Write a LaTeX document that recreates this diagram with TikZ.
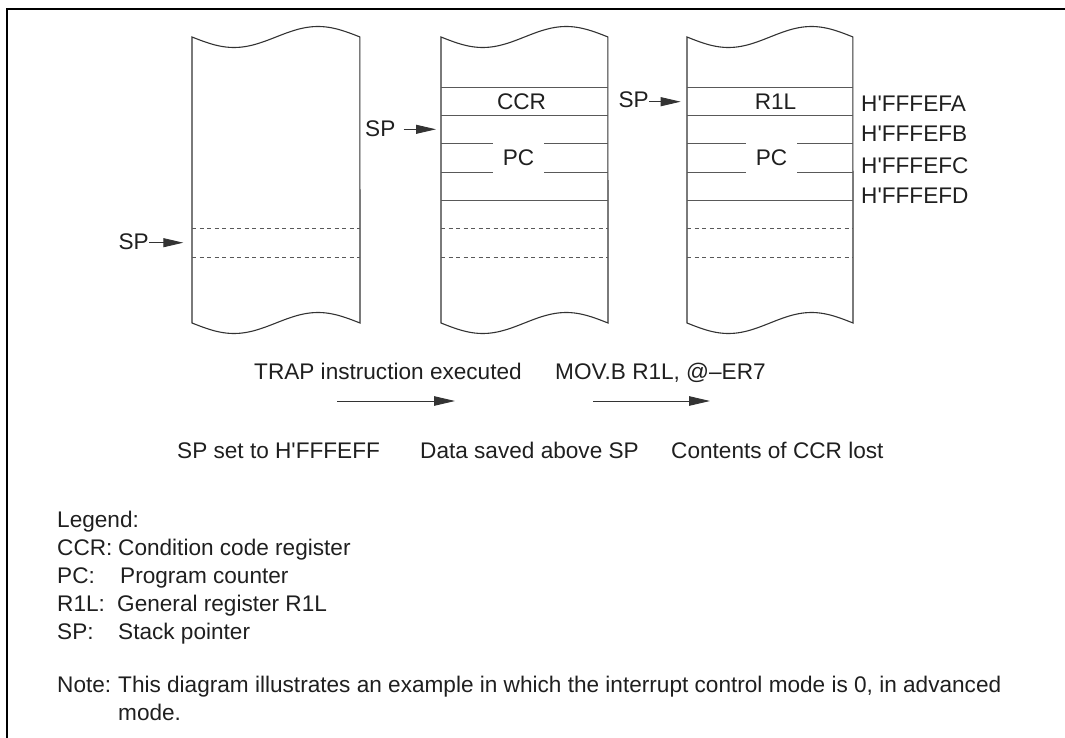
\documentclass[tikz,border=0pt]{standalone}
\usepackage{fontspec}
\setmainfont{Liberation Sans}[Ligatures=TeXOff]
\usetikzlibrary{arrows.meta}
\begin{document}
\begin{tikzpicture}[x=1pt,y=-1pt,
  txt/.style={font=\fontsize{22.6}{27}\selectfont, text=black!88, inner sep=0pt},
  outline/.style={line width=1.1pt, draw=black!80},
  rowline/.style={line width=0.9pt, draw=black!65},
  dashrow/.style={line width=0.9pt, draw=black!65, dash pattern=on 4pt off 3.5pt},
  sparrow/.style={line width=0.9pt, draw=black!80, -{Triangle[length=20pt,width=9pt]}},
  steparrow/.style={line width=0.9pt, draw=black!80, -{Triangle[length=21pt,width=9.5pt]}},
]
\useasboundingbox (0,0) rectangle (1065,738);
\draw[line width=1.8pt] (7,738) -- (7,9) -- (1065,9);

% stack columns
\foreach \L/\R in {192/360,441/608,687/853}{
  \draw[outline] (\L,323) -- (\L,37)
    -- plot[domain=0:1,samples=60,smooth] ({\L+\x*(\R-\L)},{37+10.5*sin(360*\x)})
    -- (\R,323)
    -- plot[domain=1:0,samples=60,smooth] ({\L+\x*(\R-\L)},{323+10.5*sin(360*\x)})
    -- cycle;
  \draw[dashrow] (\L,228) -- (\R,228);
  \draw[dashrow] (\L,257) -- (\R,257);
}
\foreach \L/\R/\a/\b in {441/608/493/544,687/853/746/797}{
  \draw[rowline] (\L,87) -- (\R,87);
  \draw[rowline] (\L,115) -- (\R,115);
  \draw[rowline] (\L,143) -- (\a,143) (\b,143) -- (\R,143);
  \draw[rowline] (\L,172) -- (\a,172) (\b,172) -- (\R,172);
  \draw[rowline] (\L,200) -- (\R,200);
}

% cell texts
\node[txt,anchor=base] (ccr) at (521.5,109.5) {CCR};
\node[txt,anchor=base] (pca) at (518.5,166) {PC};
\node[txt,anchor=base] (r1l) at (775.5,109.5) {R1L};
\node[txt,anchor=base] (pcb) at (771.5,166) {PC};

% addresses
\node[txt,anchor=base west] (fa) at (861,111.5) {H'FFFEFA};
\node[txt,anchor=base west] (fb) at (861,141.7) {H'FFFEFB};
\node[txt,anchor=base west] (fc) at (861,173.3) {H'FFFEFC};
\node[txt,anchor=base west] (fd) at (861,203.3) {H'FFFEFD};

% SP pointers
\node[txt,anchor=base west] (spa) at (118.3,249) {SP};
\coordinate (tipa) at (183.3,242.7);
\draw[sparrow] (spa.east |- tipa) -- (tipa);
\node[txt,anchor=base west] (spb) at (365,137) {SP};
\coordinate (tipb) at (436,129.3);
\draw[sparrow] ([xshift=8pt]spb.east |- tipb) -- (tipb);
\node[txt,anchor=base west] (spc) at (618.3,107.5) {SP};
\coordinate (tipc) at (680.7,101.7);
\draw[sparrow] (spc.east |- tipc) -- (tipc);

% step texts and arrows
\node[txt,anchor=base west] (trap) at (254,379) {TRAP instruction executed};
\node[txt,anchor=base west] (mov) at (555,379) {MOV.B R1L, @–ER7};
\coordinate (a1s) at (337,401);
\coordinate (a1e) at (455,401);
\coordinate (a2s) at (593,401);
\coordinate (a2e) at (710,401);
\draw[steparrow] (a1s) -- (a1e);
\draw[steparrow] (a2s) -- (a2e);
\node[txt,anchor=base west] (st1) at (177,458) {SP set to H'FFFEFF};
\node[txt,anchor=base west] (st2) at (420,458) {Data saved above SP};
\node[txt,anchor=base west] (st3) at (671,458) {Contents of CCR lost};

% legend
\node[txt,anchor=base west] (lg) at (57,527) {Legend:};
\node[txt,anchor=base west] (l1) at (57,555) {CCR:};
\node[txt,anchor=base west] (d1) at (118,555) {Condition code register};
\node[txt,anchor=base west] (l2) at (57,583) {PC:};
\node[txt,anchor=base west] (d2) at (120,583) {Program counter};
\node[txt,anchor=base west] (l3) at (57,611) {R1L:};
\node[txt,anchor=base west] (d3) at (117,611) {General register R1L};
\node[txt,anchor=base west] (l4) at (57,639) {SP:};
\node[txt,anchor=base west] (d4) at (118,639) {Stack pointer};

% note
\node[txt,anchor=base west] (nt) at (57,692) {Note:};
\node[txt,anchor=base west] (n1) at (118,692) {This diagram illustrates an example in which the interrupt control mode is 0, in advanced};
\node[txt,anchor=base west] (n2) at (118,720) {mode.};
\end{tikzpicture}
\end{document}
